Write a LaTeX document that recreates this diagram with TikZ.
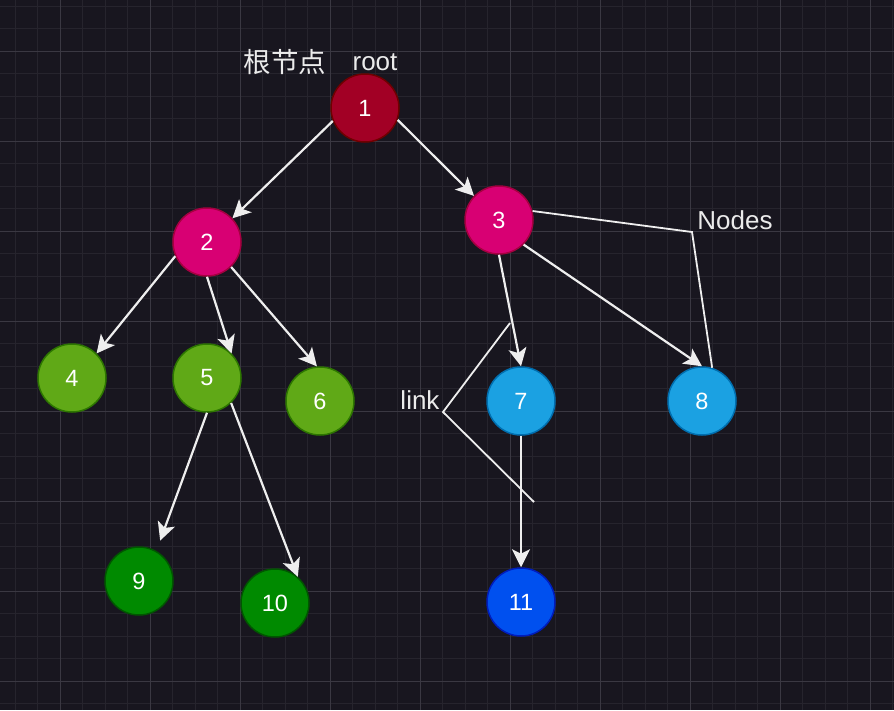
\documentclass[tikz,border=0pt]{standalone}
\usepackage{fontspec}
\setmainfont{Liberation Sans}
\newfontfamily\cjk{Noto Sans CJK SC}
\usetikzlibrary{arrows.meta}

\definecolor{bgdark}{HTML}{18161F}
\definecolor{gridminor}{HTML}{26242D}
\definecolor{gridmajor}{HTML}{3A3842}
\definecolor{edgegray}{HTML}{EEEEEE}
\definecolor{rootred}{HTML}{A20025}
\definecolor{rootredline}{HTML}{6F0000}
\definecolor{magenta}{HTML}{D80073}
\definecolor{magentaline}{HTML}{A50040}
\definecolor{leafgreen}{HTML}{60A917}
\definecolor{leafgreenline}{HTML}{2D7600}
\definecolor{darkgreen}{HTML}{008A00}
\definecolor{darkgreenline}{HTML}{005700}
\definecolor{skyblue}{HTML}{1BA1E2}
\definecolor{skyblueline}{HTML}{006EAF}
\definecolor{royalblue}{HTML}{0050EF}
\definecolor{royalblueline}{HTML}{001DBC}

\begin{document}
\begin{tikzpicture}[x=1pt,y=-1pt,
    treenode/.style={circle, minimum size=68pt, inner sep=0pt, line width=1.5pt,
      text=white, font=\fontsize{23.5}{28}\selectfont},
    edge/.style={draw=edgegray, line width=2.2pt,
      -{Stealth[length=18pt,width=18pt,inset=4.5pt]}},
    pointer/.style={draw=edgegray, line width=1.8pt},
    caption/.style={text=white!92!black, font=\fontsize{26}{31}\selectfont, anchor=base, inner sep=0pt}]
	% background and grid
	\fill[bgdark] (0,0) rectangle (894,710);
	\useasboundingbox (0,0) rectangle (894,710);
	\foreach \x in {15,37.5,...,894}
		\draw[gridminor, line width=1pt] (\x,0) -- (\x,710);
	\foreach \y in {6,28.5,...,710}
		\draw[gridminor, line width=1pt] (0,\y) -- (894,\y);
	\foreach \x in {60,150,...,894}
		\draw[gridmajor, line width=1pt] (\x,0) -- (\x,710);
	\foreach \y in {51,141,...,710}
		\draw[gridmajor, line width=1pt] (0,\y) -- (894,\y);
	%
	\node [treenode, fill=rootred, draw=rootredline] (n1) at (365,108) {1};
	\node [treenode, fill=magenta, draw=magentaline] (n2) at (207,242) {2};
	\node [treenode, fill=magenta, draw=magentaline] (n3) at (499,220) {3};
	\node [treenode, fill=leafgreen, draw=leafgreenline] (n4) at (72,378) {4};
	\node [treenode, fill=leafgreen, draw=leafgreenline] (n5) at (207,378) {5};
	\node [treenode, fill=leafgreen, draw=leafgreenline] (n6) at (320,401) {6};
	\node [treenode, fill=skyblue, draw=skyblueline] (n7) at (521,401) {7};
	\node [treenode, fill=skyblue, draw=skyblueline] (n8) at (702,401) {8};
	\node [treenode, fill=darkgreen, draw=darkgreenline] (n9) at (139,581) {9};
	\node [treenode, fill=darkgreen, draw=darkgreenline] (n10) at (275,603) {10};
	\node [treenode, fill=royalblue, draw=royalblueline] (n11) at (521,602) {11};
	%
	\node [caption, font=\fontsize{27.5}{32}\selectfont] (rootcn) at (285,72) {\cjk 根节点};
	\node [caption] (rootlbl) at (375,70) {root};
	\node [caption] (nodeslbl) at (735,229) {Nodes};
	\node [caption] (linklbl) at (420,409) {link};
	\coordinate (nodesbend) at (692,232);
	\coordinate (linktop) at (510,323);
	\coordinate (linktip) at (443,412);
	\coordinate (linkend) at (534,502);
	%
	\draw [edge] (n1.202) -- (n2.43);
	\draw [edge] (n1.-20) -- (n3.136);
	\draw [edge] (n2.204) -- (n4.45);
	\draw [edge] (n2.-90) -- (n5.45);
	\draw [edge] (n2.-46) -- (n6.95);
	\draw [edge] (n3.-90) -- (n7.90);
	\draw [edge] (n3.-45) -- (n8.90);
	\draw [edge, shorten >=11pt] (n5.-90) -- (n9.60);
	\draw [edge] (n5.-46) -- (n10.49);
	\draw [edge] (n7.-90) -- (n11.90);
	%
	\draw [pointer] (n3.15) -- (nodesbend) -- (n8.73);
	\draw [pointer] (linktop) -- (linktip) -- (linkend);
\end{tikzpicture}
\end{document}
